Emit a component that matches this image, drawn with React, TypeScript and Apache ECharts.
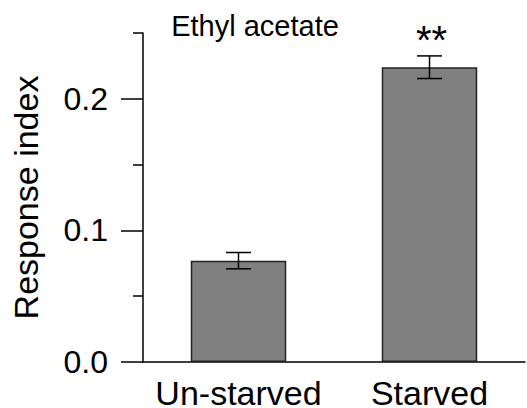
import React, { useEffect, useRef } from "react";
import * as echarts from "echarts";

const categories = ["Un-starved", "Starved"];
const means = [0.077, 0.224];
const errors = [0.0062, 0.0086];
const significance = ["", "**"];
const majorTicks = [0, 0.1, 0.2];
const minorTicks = [0.05, 0.15, 0.25];
const yMin = 0;
const yMax = 0.25;
const title = "Ethyl acetate";
const yName = "Response index";

const FONT = "'Liberation Sans', Arial, Helvetica, sans-serif";

export default function App() {
  const ref = useRef<HTMLDivElement>(null);
  useEffect(() => {
    document.body.style.margin = "0";
    if (!ref.current) return;
    const chart = echarts.init(ref.current, null, { renderer: "svg" });
    const errData = means.map((m, i) => [i, m - errors[i], m + errors[i]]);
    const axisStyle = { color: "#000", width: 1.5 };
    chart.setOption({
      animation: false,
      title: {
        text: title,
        left: 250,
        top: 6,
        textAlign: "center",
        textStyle: { fontFamily: FONT, fontSize: 29, fontWeight: "normal", color: "#000" },
      },
      grid: {
        left: 143,
        right: 2,
        top: 33,
        bottom: 46,
        containLabel: false,
        outerBoundsMode: "none",
      },
      xAxis: {
        type: "category",
        data: categories,
        axisLine: { show: true, lineStyle: axisStyle },
        axisTick: { show: false },
        axisLabel: {
          fontFamily: FONT,
          fontSize: 34,
          lineHeight: 28,
          color: "#000",
          margin: 17,
          interval: 0,
        },
      },
      yAxis: [
        {
          type: "value",
          min: yMin,
          max: yMax,
          name: yName,
          nameLocation: "middle",
          nameGap: 100,
          nameTextStyle: { fontFamily: FONT, fontSize: 34, color: "#000" },
          axisLine: { show: true, lineStyle: axisStyle },
          axisTick: { show: true, length: 22, customValues: majorTicks, lineStyle: axisStyle },
          axisLabel: {
            fontFamily: FONT,
            fontSize: 32,
            color: "#000",
            margin: 35,
            customValues: majorTicks,
            formatter: (v: number) => v.toFixed(1),
          },
          splitLine: { show: false },
        },
        {
          type: "value",
          min: yMin,
          max: yMax,
          position: "left",
          offset: 0,
          axisLine: { show: false },
          axisTick: { show: true, length: 10, customValues: minorTicks, lineStyle: axisStyle },
          axisLabel: { show: false },
          splitLine: { show: false },
        },
      ],
      series: [
        {
          type: "bar",
          data: means,
          barWidth: "50%",
          itemStyle: { color: "#808080", borderColor: "#222", borderWidth: 1.5 },
          z: 2,
        },
        {
          type: "custom",
          data: errData,
          encode: { x: 0, y: [1, 2] },
          z: 5,
          renderItem: (params: any, api: any) => {
            const x = api.value(0);
            const lo = api.coord([x, api.value(1)]);
            const hi = api.coord([x, api.value(2)]);
            const half = 12.5;
            const style = { stroke: "#000", lineWidth: 1.5 };
            const children: any[] = [
              { type: "line", shape: { x1: lo[0], y1: lo[1], x2: hi[0], y2: hi[1] }, style },
              { type: "line", shape: { x1: lo[0] - half, y1: lo[1], x2: lo[0] + half, y2: lo[1] }, style },
              { type: "line", shape: { x1: hi[0] - half, y1: hi[1], x2: hi[0] + half, y2: hi[1] }, style },
            ];
            const sig = significance[params.dataIndex];
            if (sig) {
              children.push({
                type: "text",
                x: hi[0] + 2,
                y: hi[1] - 16,
                style: {
                  text: sig,
                  fontFamily: FONT,
                  fontSize: 40,
                  align: "center",
                  verticalAlign: "middle",
                  fill: "#000",
                },
              });
            }
            return { type: "group", children };
          },
        },
      ],
    });
    return () => chart.dispose();
  }, []);
  return <div ref={ref} style={{ width: 527, height: 408 }} />;
}
